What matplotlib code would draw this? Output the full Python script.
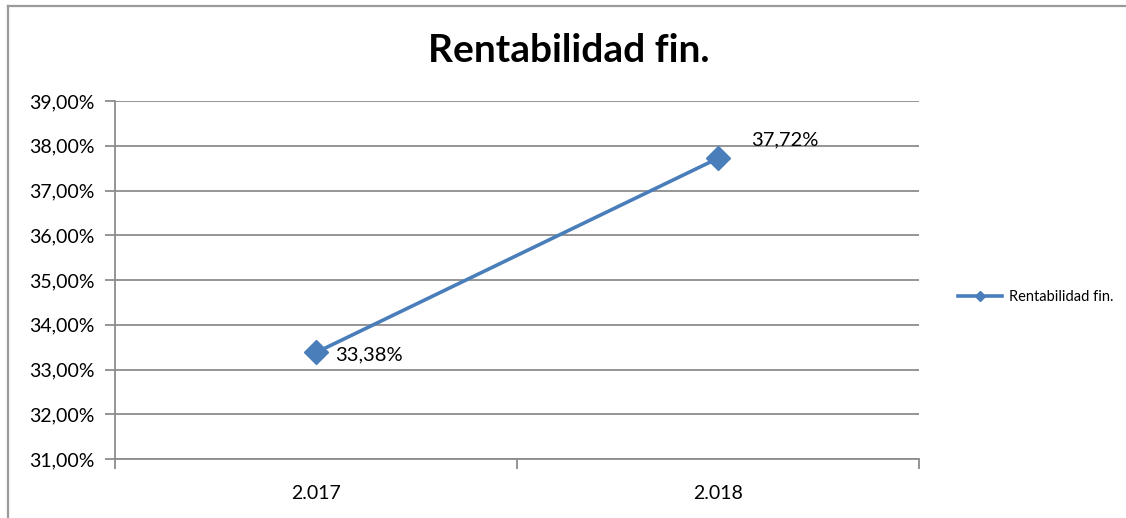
import matplotlib
matplotlib.use("Agg")
import matplotlib.pyplot as plt
from matplotlib.lines import Line2D
from matplotlib.ticker import FuncFormatter, MultipleLocator

plt.rcParams["font.family"] = ["Lato", "DejaVu Sans"]

# Financial return per year (percent)
years = ["2.017", "2.018"]
rentabilidad = [33.38, 37.72]
series_name = "Rentabilidad fin."

BLUE = "#4a7ebb"
GRID = "#8c8c8c"


def pct_es(v, _pos=None, decimals=2):
    return f"{v:.{decimals}f}".replace(".", ",") + "%"


fig = plt.figure(figsize=(11.26, 5.18), dpi=100)
ax = fig.add_axes([115 / 1126, 1 - 459 / 518, 804 / 1126, 358 / 518])

x = list(range(len(years)))
ax.plot(x, rentabilidad, color=BLUE, linewidth=2.6, marker="D",
        markersize=12, markerfacecolor=BLUE, markeredgecolor=BLUE,
        label=series_name, zorder=3)

# value labels: first to the right, second above-right
ax.annotate(pct_es(rentabilidad[0]), (x[0], rentabilidad[0]),
            xytext=(14, -2), textcoords="offset points",
            ha="left", va="center", fontsize=14.5)
ax.annotate(pct_es(rentabilidad[1]), (x[1], rentabilidad[1]),
            xytext=(24, 13), textcoords="offset points",
            ha="left", va="center", fontsize=14.5)

ax.set_xlim(-0.5, len(years) - 0.5)
ax.set_ylim(31, 39)
ax.yaxis.set_major_locator(MultipleLocator(1))
ax.yaxis.set_major_formatter(FuncFormatter(pct_es))
ax.set_xticks(x)
ax.set_xticklabels(years)
ax.set_xticks([-0.5, 0.5, 1.5], minor=True)
ax.tick_params(axis="x", which="major", length=0, pad=19, labelsize=14)
ax.tick_params(axis="x", which="minor", length=7, width=1.3, color=GRID,
               direction="out")
ax.tick_params(axis="y", length=7, width=1.3, color=GRID, pad=8,
               labelsize=14)

ax.grid(axis="y", color=GRID, linewidth=1.3)
ax.set_axisbelow(True)
for side in ("top", "right"):
    ax.spines[side].set_visible(False)
for side in ("left", "bottom"):
    ax.spines[side].set_color(GRID)
    ax.spines[side].set_linewidth(1.3)

fig.text(569 / 1126, 1 - 50 / 518, series_name, ha="center", va="center",
         fontsize=28, fontweight="bold")

handle = Line2D([], [], color=BLUE, linewidth=2.6, marker="D",
                markersize=5, markerfacecolor=BLUE)
fig.legend([handle], [series_name], loc="center left",
           bbox_to_anchor=(945 / 1126, 1 - 297 / 518), frameon=False,
           fontsize=10.5, handlelength=3.0, handletextpad=0.5)

# outer chart frame (top and left edges)
fig.add_artist(Line2D([8 / 1126, 8 / 1126], [0, 1 - 6 / 518],
                      transform=fig.transFigure, color="#9a9a9a", linewidth=1.6))
fig.add_artist(Line2D([8 / 1126, 1], [1 - 6 / 518, 1 - 6 / 518],
                      transform=fig.transFigure, color="#9a9a9a", linewidth=1.6))

fig.savefig("out.png", dpi=100)
